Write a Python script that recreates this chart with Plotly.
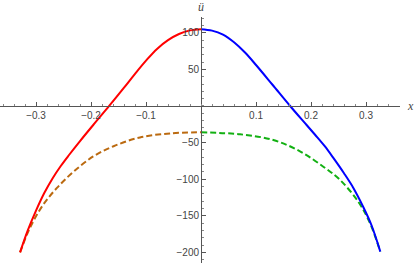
import plotly.graph_objects as go

# Left solid (red)
x_red = [-0.329, -0.315, -0.30, -0.285, -0.27, -0.255, -0.24, -0.22, -0.196, -0.167, -0.14, -0.12, -0.10, -0.08, -0.06, -0.04, -0.02, 0.0]
y_red = [-200, -170, -143, -119, -99, -82, -67, -48, -26, 0, 25, 44, 62, 78, 90, 98.4, 103.3, 105]

# Right solid (blue)
x_blue = [0.0, 0.02, 0.04, 0.06, 0.08, 0.10, 0.13, 0.162, 0.192, 0.207, 0.225, 0.2406, 0.26, 0.277, 0.295, 0.31, 0.326]
y_blue = [105, 103, 97.5, 87, 73, 56, 29, 0, -26, -39, -55, -71, -92, -112, -138, -163, -199]

# Left dashed (orange)
x_orange = [-0.329, -0.31, -0.287, -0.262, -0.232, -0.196, -0.159, -0.111, -0.0564, 0.0]
y_orange = [-200, -165, -135, -112, -90, -69, -55, -43, -37.5, -36]

# Right dashed (green)
x_green = [0.0, 0.0709, 0.1315, 0.18, 0.2224, 0.2527, 0.286, 0.306, 0.326]
y_green = [-36, -38.7, -46.5, -62, -83, -101, -131, -158, -199]

x_tickvals = [-0.3, -0.2, -0.1, 0.1, 0.2, 0.3]
x_ticktext = ["\u22120.3", "\u22120.2", "\u22120.1", "0.1", "0.2", "0.3"]
y_tickvals = [-200, -150, -100, -50, 50, 100]
y_ticktext = ["\u2212200", "\u2212150", "\u2212100", "\u221250", "50", "100"]

XMIN, XMAX = -0.3655, 0.3618
YMIN, YMAX = -214.6, 121.6

fig = go.Figure()
fig.add_trace(go.Scatter(x=x_orange, y=y_orange, mode="lines", line=dict(color="#BB6A10", width=2, dash="6px,3px", shape="spline")))
fig.add_trace(go.Scatter(x=x_green, y=y_green, mode="lines", line=dict(color="#12B012", width=2, dash="6px,3px", shape="spline")))
fig.add_trace(go.Scatter(x=x_red, y=y_red, mode="lines", line=dict(color="#FF0000", width=2, shape="spline")))
fig.add_trace(go.Scatter(x=x_blue, y=y_blue, mode="lines", line=dict(color="#0000FF", width=2, shape="spline")))

axis_col = "#555555"
font = dict(family="Liberation Sans, Arial, sans-serif", size=10, color="#444444")

fig.update_layout(
    width=415, height=265,
    margin=dict(l=0, r=15, t=17, b=2),
    paper_bgcolor="white", plot_bgcolor="white",
    showlegend=False,
    font=font,
    xaxis=dict(
        range=[XMIN, XMAX], showgrid=False, zeroline=False, automargin=False,
        showline=True, linecolor=axis_col, linewidth=1,
        anchor="free", position=(0 - YMIN) / (YMAX - YMIN),
        tickmode="array", tickvals=x_tickvals, ticktext=x_ticktext,
        ticks="inside", ticklen=4, tickcolor=axis_col,
        minor=dict(tick0=0, dtick=0.02, ticks="inside", ticklen=2, tickcolor="#888888"),
        tickfont=font,
    ),
    yaxis=dict(
        range=[YMIN, YMAX], showgrid=False, zeroline=False, automargin=False,
        showline=True, linecolor=axis_col, linewidth=1,
        anchor="free", position=(0 - XMIN) / (XMAX - XMIN),
        tickmode="array", tickvals=y_tickvals, ticktext=y_ticktext,
        ticks="inside", ticklen=4, tickcolor=axis_col,
        minor=dict(tick0=0, dtick=10, ticks="inside", ticklen=2, tickcolor="#888888"),
        tickfont=font,
    ),
    annotations=[
        dict(text="<i>x</i>", xref="paper", yref="y", x=1.0, y=0, xanchor="left", yanchor="middle",
             xshift=5, showarrow=False, font=dict(family="Liberation Serif, serif", size=12, color="#444444")),
        dict(text="<i>ü</i>", xref="x", yref="paper", x=0, y=1.0, xanchor="center", yanchor="bottom",
             yshift=1, showarrow=False, font=dict(family="Liberation Serif, serif", size=12, color="#444444")),
    ],
)

fig.write_html("out.html", config={"displayModeBar": False}, post_script="document.body.style.margin='0';")
